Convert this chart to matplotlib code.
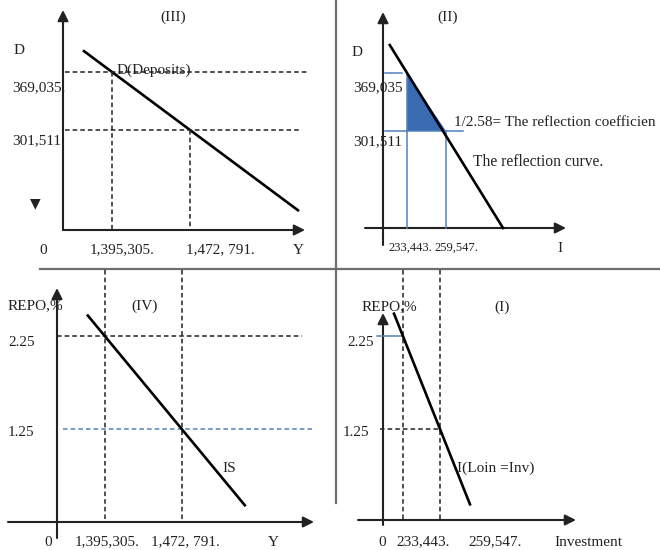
import matplotlib.pyplot as plt

plt.rcParams['font.family'] = ['Liberation Serif', 'DejaVu Serif']
plt.rcParams['font.size'] = 11

# Key values of the four-quadrant model
output_Y = [1395305, 1472791]
output_labels = ['1,395,305.', '1,472, 791.']
deposits_D = [369035, 301511]
deposits_labels = ['369,035.', '301,511.']
deposits_labels_ii = ['369,035', '301,511']
invest_I = [233443, 259547]
invest_labels = ['233,443.', '259,547.']
repo_rate = [2.25, 1.25]
repo_labels = ['2.25', '1.25']

# End points of the curves
deposit_curve_Y = [1367500, 1580000]
deposit_curve_D = [393300, 208100]
reflection_curve_I = [221900, 297700]
reflection_curve_D = [401600, 188600]
is_curve_Y = [1378000, 1536000]
is_curve_r = [2.47, 0.43]
inv_curve_I = [227100, 280700]
inv_curve_r = [2.49, 0.44]

W, H = 660, 550
ink = '#222222'
blue = '#4f81bd'
fill_blue = '#3a6ab0'
dash = (0, (3, 2))

fig = plt.figure(figsize=(W / 100, H / 100), dpi=100)

# canvas in pixel units for frames, arrows and text
canvas = fig.add_axes([0, 0, 1, 1])
canvas.set_xlim(0, W)
canvas.set_ylim(H, 0)
canvas.axis('off')


def panel(xv, xp, yv, yp):
    """Axes over the whole figure where xv/yv land on pixel columns/rows xp/yp."""
    ax = fig.add_axes([0, 0, 1, 1])
    ax.patch.set_alpha(0)
    ax.axis('off')
    kx = (xv[1] - xv[0]) / (xp[1] - xp[0])
    ky = (yv[1] - yv[0]) / (yp[1] - yp[0])
    fx = lambda p: xv[0] + (p - xp[0]) * kx
    fy = lambda p: yv[0] + (p - yp[0]) * ky
    ax.set_xlim(fx(0), fx(W))
    ax.set_ylim(fy(H), fy(0))
    return ax, fx, fy


def arrow(x0, y0, x1, y1):
    canvas.annotate('', xy=(x1, y1), xytext=(x0, y0),
                    arrowprops=dict(arrowstyle='-|>', color=ink, lw=1.5,
                                    mutation_scale=16, shrinkA=0, shrinkB=0))


def label(x, y, s, ha='left', **kw):
    canvas.text(x, y, s, ha=ha, va='center', color=ink, **kw)


# quadrant separators
canvas.plot([40, W], [269, 269], color='#6e6e6e', lw=1.6)
canvas.plot([336, 336], [0, 503], color='#6e6e6e', lw=1.6)

# ---- (III) deposits vs output ----
ax3, fx, fy = panel(output_Y, [112, 190], deposits_D, [72, 130])
arrow(63, 230, 63, 10)
arrow(63, 230, 305, 230)
ax3.plot(deposit_curve_Y, deposit_curve_D, color='black', lw=1.9)
ax3.plot([fx(65), fx(308)], [deposits_D[0]] * 2, color=ink, lw=1.1, ls=dash)
ax3.plot([fx(65), fx(300)], [deposits_D[1]] * 2, color=ink, lw=1.1, ls=dash)
for yv, dv in zip(output_Y, deposits_D):
    ax3.plot([yv, yv], [dv, fy(230)], color=ink, lw=1.1, ls=dash)
label(14, 50, 'D')
label(12, 88, deposits_labels[0])
label(12, 141, deposits_labels[1])
label(30, 203, '\u25bc', family='DejaVu Sans', fontsize=10)
label(173, 17, '(III)', ha='center')
label(117, 70, 'D(Deposits)')
label(43, 250, '0', ha='center')
label(122, 250, output_labels[0], ha='center')
label(220, 250, output_labels[1], ha='center')
label(298, 250, 'Y', ha='center')

# ---- (II) reflection curve ----
ax2, fx, fy = panel(invest_I, [407, 446], deposits_D, [73, 131])
arrow(383, 245, 383, 12)
arrow(365, 228, 566, 228)
ax2.fill([invest_I[0], invest_I[0], invest_I[1]],
         [deposits_D[0], deposits_D[1], deposits_D[1]],
         color=fill_blue, lw=0)
ax2.plot([fx(385), fx(402)], [deposits_D[0]] * 2, color=blue, lw=1.1)
ax2.plot([fx(385), fx(463)], [deposits_D[1]] * 2, color=blue, lw=1.1)
for iv, dv in zip(invest_I, deposits_D):
    ax2.plot([iv, iv], [dv, fy(228)], color=blue, lw=1.1)
ax2.plot(reflection_curve_I, reflection_curve_D, color='black', lw=1.9)
label(352, 52, 'D')
label(353, 88, deposits_labels_ii[0])
label(353, 142, deposits_labels_ii[1])
label(448, 17, '(II)', ha='center')
label(454, 123, '1/2.58= The reflection coefficien', fontsize=11)
label(473, 162, 'The reflection curve.', fontsize=11.2)
label(410, 248, invest_labels[0], ha='center', fontsize=9)
label(456, 248, invest_labels[1], ha='center', fontsize=9)
label(560, 248, 'I', ha='center')

# ---- (IV) IS curve ----
ax4, fx, fy = panel(output_Y, [105, 182], repo_rate, [336, 429])
arrow(57, 538, 57, 288)
arrow(8, 522, 314, 522)
ax4.plot([fx(57), fx(302)], [repo_rate[0]] * 2, color=ink, lw=1.1, ls=dash)
ax4.plot([fx(63), fx(315)], [repo_rate[1]] * 2, color=blue, lw=1.1, ls=dash)
for yv in output_Y:
    ax4.plot([yv, yv], [fy(270), fy(522)], color=ink, lw=1.1, ls=dash)
ax4.plot(is_curve_Y, is_curve_r, color='black', lw=1.9)
label(8, 306, 'REPO,%')
label(145, 306, '(IV)', ha='center')
label(8, 343, repo_labels[0])
label(8, 432, repo_labels[1])
label(222, 468, 'IS')
label(48, 542, '0', ha='center')
label(107, 542, output_labels[0], ha='center')
label(185, 542, output_labels[1], ha='center')
label(273, 542, 'Y', ha='center')

# ---- (I) investment demand ----
ax1, fx, fy = panel(invest_I, [403, 440], repo_rate, [336, 429])
arrow(383, 525, 383, 313)
arrow(358, 520, 576, 520)
ax1.plot([fx(377), invest_I[0]], [repo_rate[0]] * 2, color=blue, lw=1.1)
ax1.plot([fx(380), invest_I[1]], [repo_rate[1]] * 2, color=ink, lw=1.1, ls=dash)
for iv in invest_I:
    ax1.plot([iv, iv], [fy(270), fy(520)], color=ink, lw=1.1, ls=dash)
ax1.plot(inv_curve_I, inv_curve_r, color='black', lw=1.9)
label(362, 307, 'REPO,%')
label(502, 307, '(I)', ha='center')
label(347, 342, repo_labels[0])
label(343, 432, repo_labels[1])
label(457, 468, 'I(Loin =Inv)')
label(382, 542, '0', ha='center')
label(423, 542, invest_labels[0], ha='center')
label(495, 542, invest_labels[1], ha='center')
label(588, 542, 'Investment', ha='center')

fig.savefig('out.png', dpi=100)
